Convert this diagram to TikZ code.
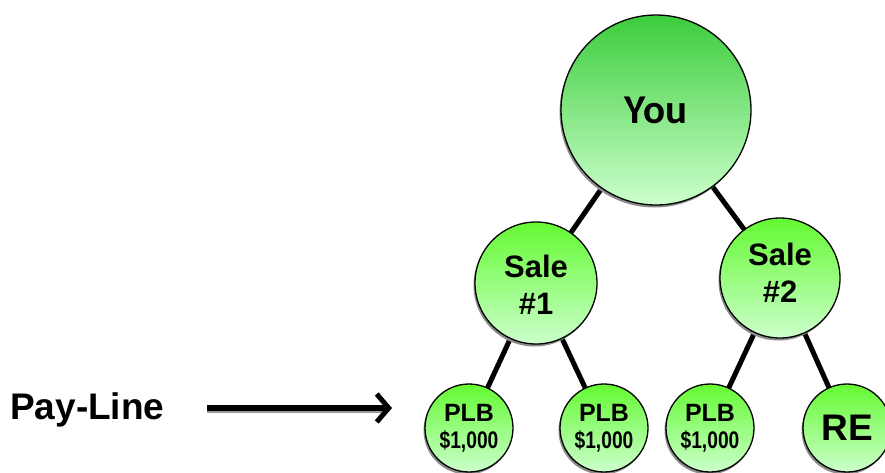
\documentclass[tikz,border=0pt]{standalone}
\usepackage{fontspec}
\setmainfont{Liberation Sans}
\newfontfamily\youfont{Carlito}
\usetikzlibrary{arrows.meta}
\tikzset{
  ball/.style={circle, draw=black, line width=1.3pt, minimum size=#1, inner sep=0pt,
    shading=axis, bottom color={rgb,255:red,204;green,255;blue,204}},
  bigball/.style={ball=#1, top color={rgb,255:red,60;green,205;blue,60}},
  smallball/.style={ball=#1, top color={rgb,255:red,100;green,250;blue,50}},
  shadowball/.style={circle, fill=black!45, minimum size=#1, inner sep=0pt},
  link/.style={line width=5pt, black},
  lbl/.style={font=\bfseries, text=black, align=center, inner sep=0pt}
}
\begin{document}
\begin{tikzpicture}[x=1pt,y=-1pt]
\useasboundingbox (0,0) rectangle (885,472);
% centres
\coordinate (cyou) at (656,110);
\coordinate (cs1) at (536,283);
\coordinate (cs2) at (780,278);
\coordinate (cp1) at (469,428);
\coordinate (cp2) at (604,428);
\coordinate (cp3) at (710,428);
\coordinate (cre) at (847,428);
% links
\draw[link] (cyou) -- (cs1);
\draw[link] (cyou) -- (cs2);
\draw[link] (cs1) -- (cp1);
\draw[link] (cs1) -- (cp2);
\draw[link] (cs2) -- (cp3);
\draw[link] (cs2) -- (cre);
% shadows
\node[shadowball=190pt] at ([shift={(-1.5,2.5)}]cyou) {};
\node[shadowball=122pt] at ([shift={(-1.5,2.5)}]cs1) {};
\node[shadowball=120pt] at ([shift={(-1.5,2.5)}]cs2) {};
\foreach \c in {cp1,cp2,cp3,cre}
  \node[shadowball=88pt] at ([shift={(-1.5,2.5)}]\c) {};
% circles
\node[bigball=190pt] (you) at (cyou) {};
\node[smallball=122pt] (s1) at (cs1) {};
\node[smallball=120pt] (s2) at (cs2) {};
\node[smallball=88pt] (p1) at (cp1) {};
\node[smallball=88pt] (p2) at (cp2) {};
\node[smallball=88pt] (p3) at (cp3) {};
\node[smallball=88pt] (re) at (cre) {};
% labels
\node[lbl, font=\youfont\bfseries\fontsize{41}{41}\selectfont] (tyou) at (you.center) {You};
\node[lbl, font=\bfseries\fontsize{31}{37}\selectfont] at ([shift={(0,1.5)}]s1.center) {Sale\\\#1};
\node[lbl, font=\bfseries\fontsize{31}{37}\selectfont] at ([shift={(0,-5)}]s2.center) {Sale\\\#2};
\foreach \n in {p1,p2,p3}{
  \node[lbl, font=\bfseries\fontsize{25}{25}\selectfont] at ([shift={(0,-15)}]\n.center) {PLB};
  \node[lbl, font=\bfseries\fontsize{24}{24}\selectfont] at ([shift={(0,13)}]\n.center) {\scalebox{0.8}[1]{\$1,000}};
}
\node[lbl, font=\bfseries\fontsize{37}{37}\selectfont] at (re.center) {RE};
% pay-line
\node[lbl, font=\bfseries\fontsize{37}{37}\selectfont, anchor=west] (pay) at (10,410) {Pay-Line};
\coordinate (a1) at (207,408);
\coordinate (a2) at (392,408);
\draw[line width=6pt, black!40] ([shift={(0,2)}]a1) -- ([shift={(-8,2)}]a2);
\draw[line width=6pt, black, -{Straight Barb[length=12pt,width=28pt,line width=5pt]}] (a1) -- (a2);
\end{tikzpicture}
\end{document}
